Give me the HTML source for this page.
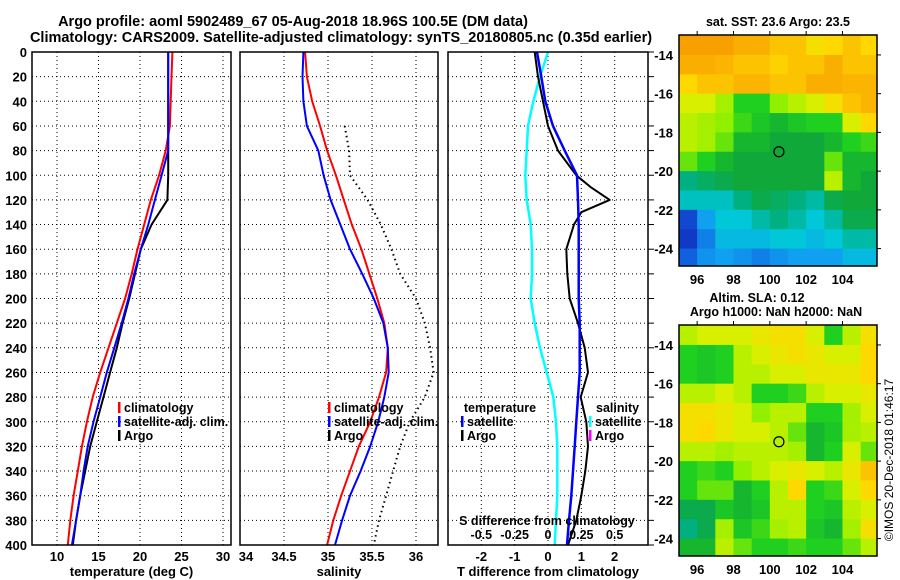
<!DOCTYPE html>
<html><head><meta charset="utf-8"><style>
body{margin:0;background:#fff}
svg{display:block;font-family:"Liberation Sans",sans-serif;font-weight:bold}
</style></head><body>
<svg id="c" width="900" height="580" xmlns="http://www.w3.org/2000/svg"></svg>
<script>
const depths=[0,20,40,60,80,100,120,140,160,180,200,220,240,260,280,300,320,340,360,380,400];
const depthTicks=[0,20,40,60,80,100,120,140,160,180,200,220,240,260,280,300,320,340,360,380,400];
const tempTicks=[10,15,20,25,30];
const salTicks=[34,34.5,35,35.5,36];
const tdiffTicks=[-2,-1,0,1,2];
const sdiffTicks=[-0.5,-0.25,0,0.25,0.5];
const tempClim=[23.9,23.8,23.7,23.6,23.1,22.3,21.3,20.5,19.7,19.0,18.2,17.2,16.2,15.2,14.3,13.6,13.0,12.5,12.0,11.6,11.3];
const tempSat=[23.4,23.4,23.4,23.4,23.4,22.6,21.8,21.0,20.1,19.3,18.6,17.8,16.9,16.0,15.2,14.4,13.7,13.2,12.8,12.3,11.8];
const tempArgo=[23.4,23.4,23.4,23.4,23.4,23.4,23.3,21.4,20.1,19.4,18.7,17.9,17.2,16.4,15.6,14.8,14.0,13.4,12.8,12.3,11.9];
const salClim=[34.74,34.76,34.82,34.91,34.99,35.09,35.18,35.27,35.38,35.47,35.56,35.64,35.68,35.66,35.58,35.48,35.35,35.25,35.15,35.06,34.99];
const salSat=[34.72,34.71,34.72,34.76,34.89,34.95,35.03,35.14,35.25,35.39,35.52,35.63,35.68,35.69,35.64,35.57,35.48,35.37,35.25,35.16,35.08];
const salArgo=[null,null,null,35.19,35.24,35.25,35.45,35.6,35.72,35.82,36.0,36.1,36.16,36.2,36.1,35.93,35.82,35.74,35.66,35.58,35.52];
const tdiffSat=[-0.33,-0.2,-0.08,0.15,0.5,0.87,0.9,0.92,0.92,0.92,0.92,0.95,0.95,0.95,0.9,0.85,0.8,0.75,0.7,0.63,0.57];
const argoDiffDepths=[0,20,40,60,80,100,110,120,130,140,160,180,200,220,240,260,280,300,320,340,360,380,400];
const tdiffArgo=[-0.4,-0.3,-0.15,0,0.3,0.85,1.3,1.85,1.0,0.78,0.55,0.58,0.65,0.9,1.1,1.2,0.98,1.15,1.2,1.12,1.0,0.85,0.6];
const sdiffSat=[0,-0.06,-0.11,-0.15,-0.16,-0.17,-0.16,-0.13,-0.12,-0.12,-0.13,-0.1,-0.06,-0.01,0.04,0.06,0.07,0.07,0.07,0.06,0.05];
const lonTicks=[96,98,100,102,104];
const latTicks=[-14,-16,-18,-20,-22,-24];
const mapLons=[95,96,97,98,99,100,101,102,103,104,105];
const mapLats=[-13,-14,-15,-16,-17,-18,-19,-20,-21,-22,-23,-24];
const sstGrid=[
[0.9,0.9,0.9,0.88,0.88,0.85,0.85,0.8,0.82,0.85,0.82],
[0.88,0.88,0.87,0.85,0.85,0.83,0.85,0.85,0.88,0.85,0.85],
[0.82,0.85,0.85,0.87,0.87,0.85,0.85,0.88,0.88,0.87,0.87],
[0.75,0.75,0.7,0.6,0.6,0.68,0.72,0.75,0.8,0.85,0.87],
[0.72,0.7,0.68,0.62,0.58,0.55,0.58,0.6,0.6,0.75,0.82],
[0.72,0.7,0.65,0.55,0.55,0.52,0.52,0.52,0.55,0.6,0.62],
[0.65,0.6,0.55,0.52,0.52,0.52,0.52,0.52,0.65,0.55,0.55],
[0.45,0.48,0.5,0.52,0.52,0.52,0.52,0.52,0.72,0.55,0.52],
[0.4,0.4,0.4,0.45,0.5,0.48,0.45,0.42,0.5,0.52,0.52],
[0.15,0.3,0.38,0.38,0.42,0.45,0.42,0.38,0.42,0.5,0.5],
[0.12,0.25,0.35,0.35,0.35,0.38,0.38,0.35,0.38,0.42,0.42],
[0.2,0.28,0.3,0.28,0.25,0.28,0.3,0.3,0.3,0.35,0.35]];
const slaGrid=[
[0.72,0.75,0.75,0.75,0.78,0.8,0.8,0.75,0.6,0.72,0.8],
[0.6,0.58,0.6,0.72,0.75,0.78,0.8,0.78,0.75,0.75,0.82],
[0.6,0.58,0.6,0.72,0.72,0.75,0.75,0.78,0.78,0.78,0.82],
[0.72,0.72,0.75,0.72,0.6,0.6,0.62,0.72,0.75,0.75,0.78],
[0.8,0.8,0.78,0.75,0.68,0.72,0.72,0.6,0.6,0.7,0.75],
[0.8,0.82,0.78,0.75,0.75,0.72,0.65,0.55,0.58,0.7,0.72],
[0.72,0.72,0.7,0.72,0.72,0.72,0.7,0.55,0.6,0.75,0.65],
[0.6,0.62,0.6,0.68,0.72,0.75,0.78,0.75,0.72,0.78,0.85],
[0.6,0.65,0.65,0.55,0.6,0.72,0.82,0.6,0.62,0.75,0.82],
[0.5,0.5,0.58,0.55,0.58,0.72,0.72,0.6,0.58,0.72,0.75],
[0.45,0.5,0.7,0.58,0.62,0.7,0.72,0.58,0.55,0.7,0.8],
[0.55,0.55,0.72,0.65,0.6,0.6,0.62,0.6,0.6,0.65,0.72]];
const argoLon=100.5, argoLat=-19;

const NS="http://www.w3.org/2000/svg";
const svg=document.getElementById('c');
function el(tag,attrs,parent){const e=document.createElementNS(NS,tag);for(const k in attrs)e.setAttribute(k,attrs[k]);(parent||svg).appendChild(e);return e;}
function txt(x,y,s,size,anchor,parent){const t=el('text',{x:x,y:y,'font-size':size,'text-anchor':anchor||'middle'},parent);t.textContent=s;return t;}

const TOP=52,BOT=545;
const yD=d=>TOP+(d/400)*(BOT-TOP);
function lin(d0,d1,r0,r1){return v=>r0+(v-d0)/(d1-d0)*(r1-r0);}

function panel(name,x0,x1,xs,xticks,xlab,title,leftLabels){
  const g=el('g',{});
  
  
  depthTicks.forEach(d=>{const y=yD(d);
    el('line',{x1:x0,x2:x1,y1:y,y2:y,stroke:'#000','stroke-width':1,'stroke-dasharray':'1,3'},g);
    if(leftLabels){const t=txt(27,y+5,String(d),13,'end',g);}
  });
  xticks.forEach(v=>{const x=xs(v);
    el('line',{x1:x,x2:x,y1:TOP,y2:BOT,stroke:'#000','stroke-width':1,'stroke-dasharray':'1,3'},g);
  });
  xlab.forEach(l=>{const t=txt(l[0],561,l[1],13,'middle',g);});
  const tt=txt((x0+x1)/2,576,title,13,'middle',g);
  
  return g;
}
function line(g,xs,vals,dep,color,w,dash,name){
  let d='';let pen=false;
  vals.forEach((v,i)=>{if(v===null){pen=false;return;}d+=(pen?'L':'M')+xs(v).toFixed(1)+','+yD(dep[i]).toFixed(1);pen=true;});
  const p=el('path',{d:d,fill:'none',stroke:color,'stroke-width':w,'stroke-linejoin':'round'},g);
  if(dash)p.setAttribute('stroke-dasharray',dash);
  
  
}
function frame(g,x0,x1){el('rect',{x:x0,y:TOP,width:x1-x0,height:BOT-TOP,fill:'none',stroke:'#000','stroke-width':1.5},g);}
function legend(g,x,y,color,label){
  el('rect',{x:x,y:y-10,width:2.5,height:11,fill:color},g);
  const t=txt(x+6,y,label,12.5,'start',g);
  
}

const t1=txt(293,26,'Argo profile: aoml 5902489_67 05-Aug-2018 18.96S 100.5E (DM data)',14.5);

const t2=txt(341,42,'Climatology: CARS2009. Satellite-adjusted climatology: synTS_20180805.nc (0.35d earlier)',14.5);


const xT=lin(10,30,57,223);
const g1=panel('temperature-panel',32,231,xT,tempTicks,tempTicks.map(v=>[xT(v),String(v)]),'temperature (deg C)',true);
line(g1,xT,tempClim,depths,'#f00',2,null,'temp-climatology-line');
line(g1,xT,tempArgo,depths,'#000',2,null,'temp-argo-line');
line(g1,xT,tempSat,depths,'#00f',2,null,'temp-satellite-line');
frame(g1,32,231);
legend(g1,118,412,'#f00','climatology');
legend(g1,118,426,'#00f','satellite-adj. clim.');
legend(g1,118,440,'#000','Argo');

const xS=lin(34,36.25,240,438);
const g2=panel('salinity-panel',240,438,xS,salTicks,[[246,'34'],[xS(34.5),'34.5'],[xS(35),'35'],[xS(35.5),'35.5'],[xS(36),'36']],'salinity',false);
line(g2,xS,salArgo,depths,'#000',2,'1.5,3.5','sal-argo-line');
line(g2,xS,salClim,depths,'#f00',2,null,'sal-climatology-line');
line(g2,xS,salSat,depths,'#00f',2,null,'sal-satellite-line');
frame(g2,240,438);
legend(g2,328,412,'#f00','climatology');
legend(g2,328,426,'#00f','satellite-adj. clim.');
legend(g2,328,440,'#000','Argo');

const xTD=lin(-3,3,448,648);
const xSD=lin(-0.75,0.75,448,648);
const g3=panel('difference-panel',448,648,xTD,tdiffTicks,tdiffTicks.map(v=>[xTD(v),String(v)]),'T difference from climatology',false);
line(g3,xSD,sdiffSat,depths,'#0ff',2.5,null,'sal-diff-satellite-line');
line(g3,xTD,tdiffArgo,argoDiffDepths,'#000',2,null,'temp-diff-argo-line');
line(g3,xTD,tdiffSat,depths,'#00f',2.5,null,'temp-diff-satellite-line');
frame(g3,448,648);
depthTicks.forEach(d=>el('line',{x1:648,x2:654,y1:yD(d),y2:yD(d),stroke:'#000','stroke-width':1},g3));
let tl=txt(500,412,'temperature',12.5,'middle',g3);
legend(g3,461,426,'#00f','satellite');
legend(g3,461,440,'#000','Argo');
tl=txt(596,412,'salinity',12.5,'start',g3);
legend(g3,589,426,'#0ff','satellite');
legend(g3,589,440,'#f0f','Argo');
tl=txt(547,525,'S difference from climatology',12.5,'middle',g3);
sdiffTicks.forEach(v=>{const t=txt(xSD(v),539,String(v),12.5,'middle',g3);});

const stops=[[0.1,[16,48,192]],[0.2,[16,96,224]],[0.3,[16,160,240]],[0.38,[0,200,216]],[0.45,[0,176,128]],[0.52,[16,168,56]],[0.6,[32,208,32]],[0.68,[144,240,0]],[0.75,[216,240,0]],[0.82,[255,216,0]],[0.9,[248,160,0]]];
function cmap(v){if(v<=stops[0][0])return 'rgb('+stops[0][1]+')';
  for(let i=1;i<stops.length;i++){if(v<=stops[i][0]){const a=stops[i-1],b=stops[i],f=(v-a[0])/(b[0]-a[0]);
    return 'rgb('+a[1].map((c,k)=>Math.round(c+(b[1][k]-c)*f)).join(',')+')';}}
  return 'rgb('+stops[stops.length-1][1]+')';}

function map(name,y0,y1,grid,titles){
  const x0=679,x1=877;
  const g=el('g',{});
  
  
  const xL=lin(95,105.9,x0,x1), yL=lin(-12.97,-24.9,y0,y1);
  grid.forEach((row,r)=>row.forEach((v,c)=>{
    const xa=xL(mapLons[c]),xb=c==row.length-1?x1:xL(mapLons[c]+1);
    const ya=yL(mapLats[r]),yb=r==grid.length-1?y1:yL(mapLats[r]-1);
    const cell=el('rect',{x:xa,y:ya,width:xb-xa+0.5,height:yb-ya+0.5,fill:cmap(v)},g);
    
    
  }));
  el('rect',{x:x0,y:y0,width:x1-x0,height:y1-y0,fill:'none',stroke:'#000','stroke-width':1.5},g);
  lonTicks.forEach(v=>{const x=xL(v);
    el('line',{x1:x,x2:x,y1:y0-4,y2:y0,stroke:'#000'},g);
    const t=txt(x,y1+18,String(v),13,'middle',g);});
  latTicks.forEach(v=>{const y=yL(v);
    el('line',{x1:x1,x2:x1+4,y1:y,y2:y,stroke:'#000'},g);
    const t=txt(x0-6,y+5,String(v),13,'end',g);});
  const m=el('circle',{cx:xL(argoLon),cy:yL(argoLat),r:5,fill:'none',stroke:'#000','stroke-width':1.2},g);
  
  titles.forEach(tt=>{const t=txt(tt[0],tt[1],tt[2],12.5,'middle',g);});
}
map('sst-map',35,266,sstGrid,[[778,26,'sat. SST: 23.6 Argo: 23.5']]);
map('sla-map',325,556,slaGrid,[[757,302,'Altim. SLA: 0.12'],[776,316,'Argo h1000: NaN h2000: NaN']]);

const cp=el('text',{x:0,y:0,'font-size':12,'font-weight':'normal','text-anchor':'middle',transform:'translate(893,460) rotate(-90)'});
cp.textContent='\u00A9IMOS 20-Dec-2018 01:46:17';


</script>
</body></html>
